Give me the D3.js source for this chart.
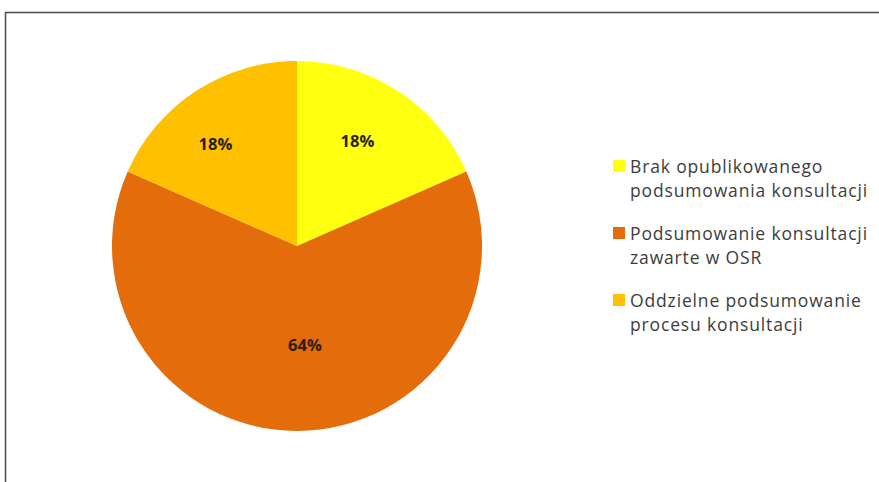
<!DOCTYPE html>
<html><head><meta charset="utf-8">
<script src="https://cdn.jsdelivr.net/npm/d3@7"></script>
<style>html,body{margin:0;padding:0;background:#fff;overflow:hidden}</style>
</head><body>
<svg id="c" width="879" height="482"></svg>
<script>
const categories = ["Brak opublikowanego podsumowania konsultacji", "Podsumowanie konsultacji zawarte w OSR", "Oddzielne podsumowanie procesu konsultacji"];
const legendLines = [["Brak opublikowanego", "podsumowania konsultacji"], ["Podsumowanie konsultacji", "zawarte w OSR"], ["Oddzielne podsumowanie", "procesu konsultacji"]];
const values = [18.4, 63.2, 18.4];
const labels = ["18%", "64%", "18%"];
const colors = ["#FFFF10", "#E46C0A", "#FFC000"];

const svg = d3.select("#c");
svg.append("rect").attr("x", 5.5).attr("y", 12.5).attr("width", 900).attr("height", 500)
  .attr("fill", "#fff").attr("stroke", "#4a4a4a").attr("stroke-width", 1.5);

const cx = 297, cy = 246, R = 185;
const pie = d3.pie().sort(null).value(d => d)(values);
const arc = d3.arc().innerRadius(0).outerRadius(R);
const g = svg.append("g").attr("transform", `translate(${cx},${cy})`);
g.selectAll("path").data(pie).join("path")
  .attr("d", arc).attr("fill", (d, i) => colors[i]);

// label placement: radius and angular nudge (degrees) per slice
const labelR = [122, 99, 131];
const labelNudge = [-3.4, -4.6, -5.4];
g.selectAll("text").data(pie).join("text")
  .attr("transform", (d, i) => {
    const a = (d.startAngle + d.endAngle) / 2 + labelNudge[i] * Math.PI / 180;
    const r = labelR[i];
    return `translate(${r * Math.sin(a)},${-r * Math.cos(a)})`;
  })
  .attr("text-anchor", "middle").attr("dominant-baseline", "central")
  .attr("font-family", "'Open Sans', sans-serif").attr("font-weight", "bold")
  .attr("font-size", 16.5).attr("fill", "#2b1d10")
  .text((d, i) => labels[i]);

const lg = svg.append("g").attr("transform", "translate(613,166)");
const items = lg.selectAll("g").data(categories).join("g")
  .attr("transform", (d, i) => `translate(0,${i * 67})`);
items.append("rect").attr("x", 0).attr("y", -6).attr("width", 12).attr("height", 12)
  .attr("fill", (d, i) => colors[i]);
items.each(function(d, i) {
  const t = d3.select(this).append("text")
    .attr("font-family", "'Open Sans', sans-serif").attr("font-size", 17.5)
    .attr("letter-spacing", 0.85).attr("fill", "#3d3d3d");
  legendLines[i].forEach((ln, j) => {
    t.append("tspan").attr("x", 17).attr("y", j * 24).attr("dominant-baseline", "central").text(ln);
  });
});
</script>
</body></html>
